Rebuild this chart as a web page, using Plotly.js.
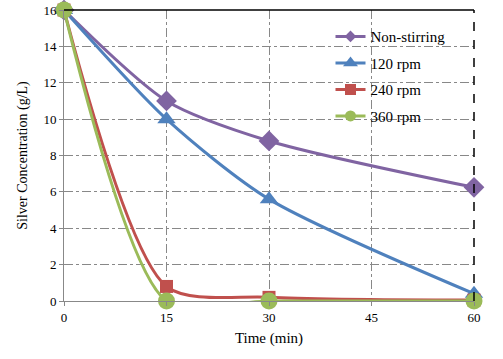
<!DOCTYPE html>
<html><head><meta charset="utf-8">
<script src="https://cdn.plot.ly/plotly-3.0.1.min.js"></script>
<style>html,body{margin:0;padding:0;background:#fff}#c{width:503px;height:359px}</style>
</head><body><div id="c"></div>
<script>
const time = [0, 15, 30, 60];
const nonStirring = [16, 11, 8.8, 6.25];
const rpm120 = [16, 10, 5.6, 0.4];
const rpm240 = [16, 0.8, 0.2, 0.05];
const rpm360 = [16, 0, 0, 0];
const names = ["Non-stirring", "120 rpm", "240 rpm", "360 rpm"];
const colors = ["#8064A2", "#4F81BD", "#C0504D", "#9BBB59"];
const symbols = ["diamond", "triangle-up", "square", "circle"];
const sizes = [16, 16, 13, 17];
const legendSizes = [9, 13, 11, 11];
const series = [nonStirring, rpm120, rpm240, rpm360];

const traces = [];
series.forEach((s, i) => {
  traces.push({
    x: time, y: s, mode: "lines+markers", name: names[i], showlegend: false,
    line: {color: colors[i], width: 3, shape: "spline", smoothing: 0.75},
    marker: {symbol: symbols[i], size: sizes[i], color: colors[i]},
    cliponaxis: false
  });
});
series.forEach((s, i) => {
  traces.push({
    x: [null], y: [null], mode: "lines+markers", name: names[i], showlegend: true,
    legendgroup: "g" + i,
    line: {color: colors[i], width: 3},
    marker: {symbol: symbols[i], size: legendSizes[i], color: colors[i]}
  });
});

const FONT = "Liberation Serif";
const layout = {
  width: 503, height: 359,
  margin: {l: 64, r: 29, t: 10, b: 58},
  paper_bgcolor: "#fff", plot_bgcolor: "#fff",
  font: {family: FONT, size: 13, color: "#000"},
  showlegend: true,
  legend: {x: 0.65, y: 0.965, xanchor: "left", yanchor: "top", bgcolor: "rgba(255,255,255,0)",
           font: {family: FONT, size: 15}, tracegroupgap: 4, itemwidth: 30},
  xaxis: {range: [0, 60], tickvals: [0, 15, 30, 45, 60], showgrid: true, gridcolor: "#888",
          griddash: "dashdot", gridwidth: 1, zeroline: false, showline: true, linecolor: "#888",
          ticks: "outside", ticklen: 4, tickcolor: "#888", tickfont: {family: FONT, size: 13},
          title: {text: "Time (min)", font: {family: FONT, size: 15}, standoff: 8}},
  yaxis: {range: [0, 16], dtick: 2, showgrid: true, gridcolor: "#888", griddash: "dashdot",
          gridwidth: 1, zeroline: false, showline: true, linecolor: "#888", ticks: "outside",
          ticklen: 4, tickcolor: "#888", tickfont: {family: FONT, size: 13},
          title: {text: "Silver Concentration (g/L)", font: {family: FONT, size: 14}, standoff: 12}},
  shapes: [
    {type: "line", xref: "paper", yref: "paper", x0: 0, x1: 1, y0: 1, y1: 1, line: {color: "#000", width: 1.5}},
    {type: "line", xref: "paper", yref: "paper", x0: 1, x1: 1, y0: 0, y1: 1, line: {color: "#000", width: 1.5, dash: "dash"}}
  ]
};
Plotly.newPlot("c", traces, layout, {displayModeBar: false, staticPlot: true});
</script></body></html>
